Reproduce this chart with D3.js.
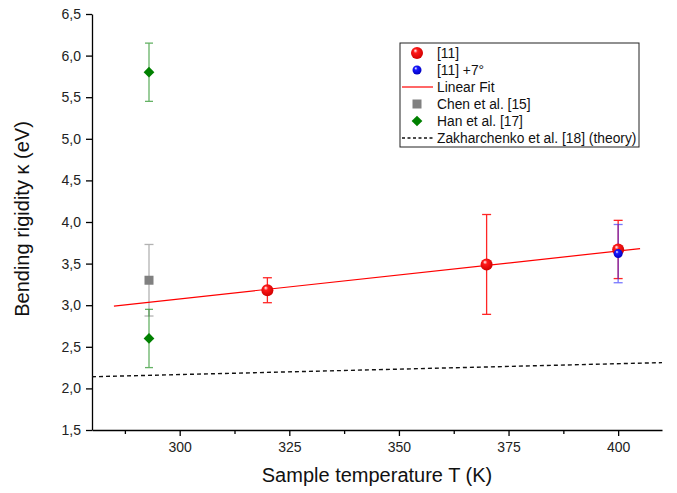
<!DOCTYPE html>
<html><head><meta charset="utf-8">
<script src="https://cdn.jsdelivr.net/npm/d3@7"></script>
<style>body{margin:0;background:#fff}svg{display:block;font-family:"Liberation Sans",Arial,sans-serif}</style>
</head><body><svg id="c" width="677" height="493"></svg>
<script>
// Data
const ref11 = [{t:320,v:3.18,e:0.15},{t:370,v:3.49,e:0.60},{t:400,v:3.67,e:0.35}];
const ref11rot = [{t:400,v:3.62,e:0.35}];
const linearFit = [{t:285,v:2.99},{t:405,v:3.68}];
const chen = [{t:293,v:3.30,e:0.43}];
const han = [{t:293,v:5.80,e:0.35},{t:293,v:2.60,e:0.35}];
const zakharchenko = [{t:280,v:2.14},{t:410,v:2.31}];
const xTicks = [300,325,350,375,400];
const xMinor = [287.5,312.5,337.5,362.5,387.5];
const yTicks = [1.5,2.0,2.5,3.0,3.5,4.0,4.5,5.0,5.5,6.0,6.5];
const legendItems = ["[11]","[11] +7°","Linear Fit","Chen et al. [15]","Han et al. [17]","Zakharchenko et al. [18] (theory)"];

const svg = d3.select("#c");
const x = d3.scaleLinear().domain([280,410]).range([92,662]);
const y = d3.scaleLinear().domain([1.5,6.5]).range([430,14]);

const defs = svg.append("defs");
function sphere(id, base, dark){
  const g = defs.append("radialGradient").attr("id",id).attr("cx","45%").attr("cy","40%").attr("r","60%").attr("fx","35%").attr("fy","30%");
  g.append("stop").attr("offset","0%").attr("stop-color","#fff");
  g.append("stop").attr("offset","30%").attr("stop-color",base);
  g.append("stop").attr("offset","100%").attr("stop-color",dark);
}
sphere("gr","#ff1a1a","#d00000");
sphere("gb","#1a1aff","#0000c0");

// axes
const fmt = d => d3.format(".1f")(d).replace(".",",");
const yAxis = svg.append("g").attr("transform","translate(92,0)")
  .call(d3.axisLeft(y).tickValues(yTicks).tickFormat(fmt).tickSize(6).tickSizeOuter(0));
const xAxis = svg.append("g").attr("transform","translate(0,430)")
  .call(d3.axisBottom(x).tickValues(xTicks).tickFormat(d3.format("d")).tickSize(6).tickSizeOuter(0));
svg.append("g").attr("transform","translate(0,430)")
  .call(d3.axisBottom(x).tickValues(xMinor).tickFormat("").tickSize(4).tickSizeOuter(0))
  .select(".domain").remove();
svg.selectAll(".domain, .tick line").attr("stroke","#000").attr("stroke-width",1.3);
yAxis.selectAll("text").attr("font-size",14).attr("fill","#222").attr("dx","-2");
xAxis.selectAll("text").attr("font-size",14).attr("fill","#222").attr("dy","0.9em");
svg.append("text").attr("x",377).attr("y",482).attr("text-anchor","middle").attr("font-size",20).attr("fill","#111").text("Sample temperature T (K)");
svg.append("text").attr("transform","translate(29,219) rotate(-90)").attr("text-anchor","middle").attr("font-size",20).attr("fill","#111").text("Bending rigidity κ (eV)");

// theory dashed line
const line = d3.line().x(d=>x(d.t)).y(d=>y(d.v));
svg.append("path").datum(zakharchenko).attr("d",line).attr("fill","none").attr("stroke","#111").attr("stroke-width",1.4).attr("stroke-dasharray","4,3");

// error bars
function errbars(data, color, cap, op){
  const g = svg.append("g").attr("stroke",color).attr("stroke-width",1.3).attr("opacity",op);
  data.forEach(d=>{
    g.append("line").attr("x1",x(d.t)).attr("x2",x(d.t)).attr("y1",y(d.v+d.e)).attr("y2",y(d.v-d.e));
    [d.v+d.e,d.v-d.e].forEach(v=>g.append("line").attr("x1",x(d.t)-cap).attr("x2",x(d.t)+cap).attr("y1",y(v)).attr("y2",y(v)));
  });
}
errbars(chen,"#808080",4.5,0.6);
errbars(han,"#008000",4,0.6);
errbars(ref11,"#ff0000",4.5,0.85);
errbars(ref11rot,"#2020ff",4.5,0.6);

// linear fit
svg.append("path").datum(linearFit).attr("d",line).attr("fill","none").attr("stroke","#ff0000").attr("stroke-width",1.2);

// markers
svg.selectAll(".chen").data(chen).enter().append("rect")
  .attr("x",d=>x(d.t)-4.5).attr("y",d=>y(d.v)-4.5).attr("width",9).attr("height",9).attr("fill","#808080");
svg.selectAll(".han").data(han).enter().append("path")
  .attr("transform",d=>`translate(${x(d.t)},${y(d.v)}) rotate(45)`)
  .attr("d","M-3.8,-3.8H3.8V3.8H-3.8Z").attr("fill","#008000");
svg.selectAll(".r11").data(ref11).enter().append("circle")
  .attr("cx",d=>x(d.t)).attr("cy",d=>y(d.v)).attr("r",6).attr("fill","url(#gr)");
svg.selectAll(".b11").data(ref11rot).enter().append("circle")
  .attr("cx",d=>x(d.t)).attr("cy",d=>y(d.v)).attr("r",4.5).attr("fill","url(#gb)");

// legend
const lg = svg.append("g");
lg.append("rect").attr("x",400).attr("y",43).attr("width",239).attr("height",104).attr("fill","#fff").attr("stroke","#222").attr("stroke-width",1);
legendItems.forEach((t,i)=>{
  const cy = 53 + i*17;
  lg.append("text").attr("x",437).attr("y",cy+5).attr("font-size",13.8).attr("fill","#111").text(t);
  const sx = 417;
  if(i===0) lg.append("circle").attr("cx",sx).attr("cy",cy).attr("r",6).attr("fill","url(#gr)");
  if(i===1) lg.append("circle").attr("cx",sx).attr("cy",cy).attr("r",4.5).attr("fill","url(#gb)");
  if(i===2) lg.append("line").attr("x1",402).attr("x2",433).attr("y1",cy).attr("y2",cy).attr("stroke","#ff0000").attr("stroke-width",1.2);
  if(i===3) lg.append("rect").attr("x",sx-4.5).attr("y",cy-4.5).attr("width",9).attr("height",9).attr("fill","#808080");
  if(i===4) lg.append("path").attr("transform",`translate(${sx},${cy}) rotate(45)`).attr("d","M-3.8,-3.8H3.8V3.8H-3.8Z").attr("fill","#008000");
  if(i===5) lg.append("line").attr("x1",402).attr("x2",433).attr("y1",cy).attr("y2",cy).attr("stroke","#111").attr("stroke-width",1.4).attr("stroke-dasharray","3,2.5");
});
</script></body></html>
